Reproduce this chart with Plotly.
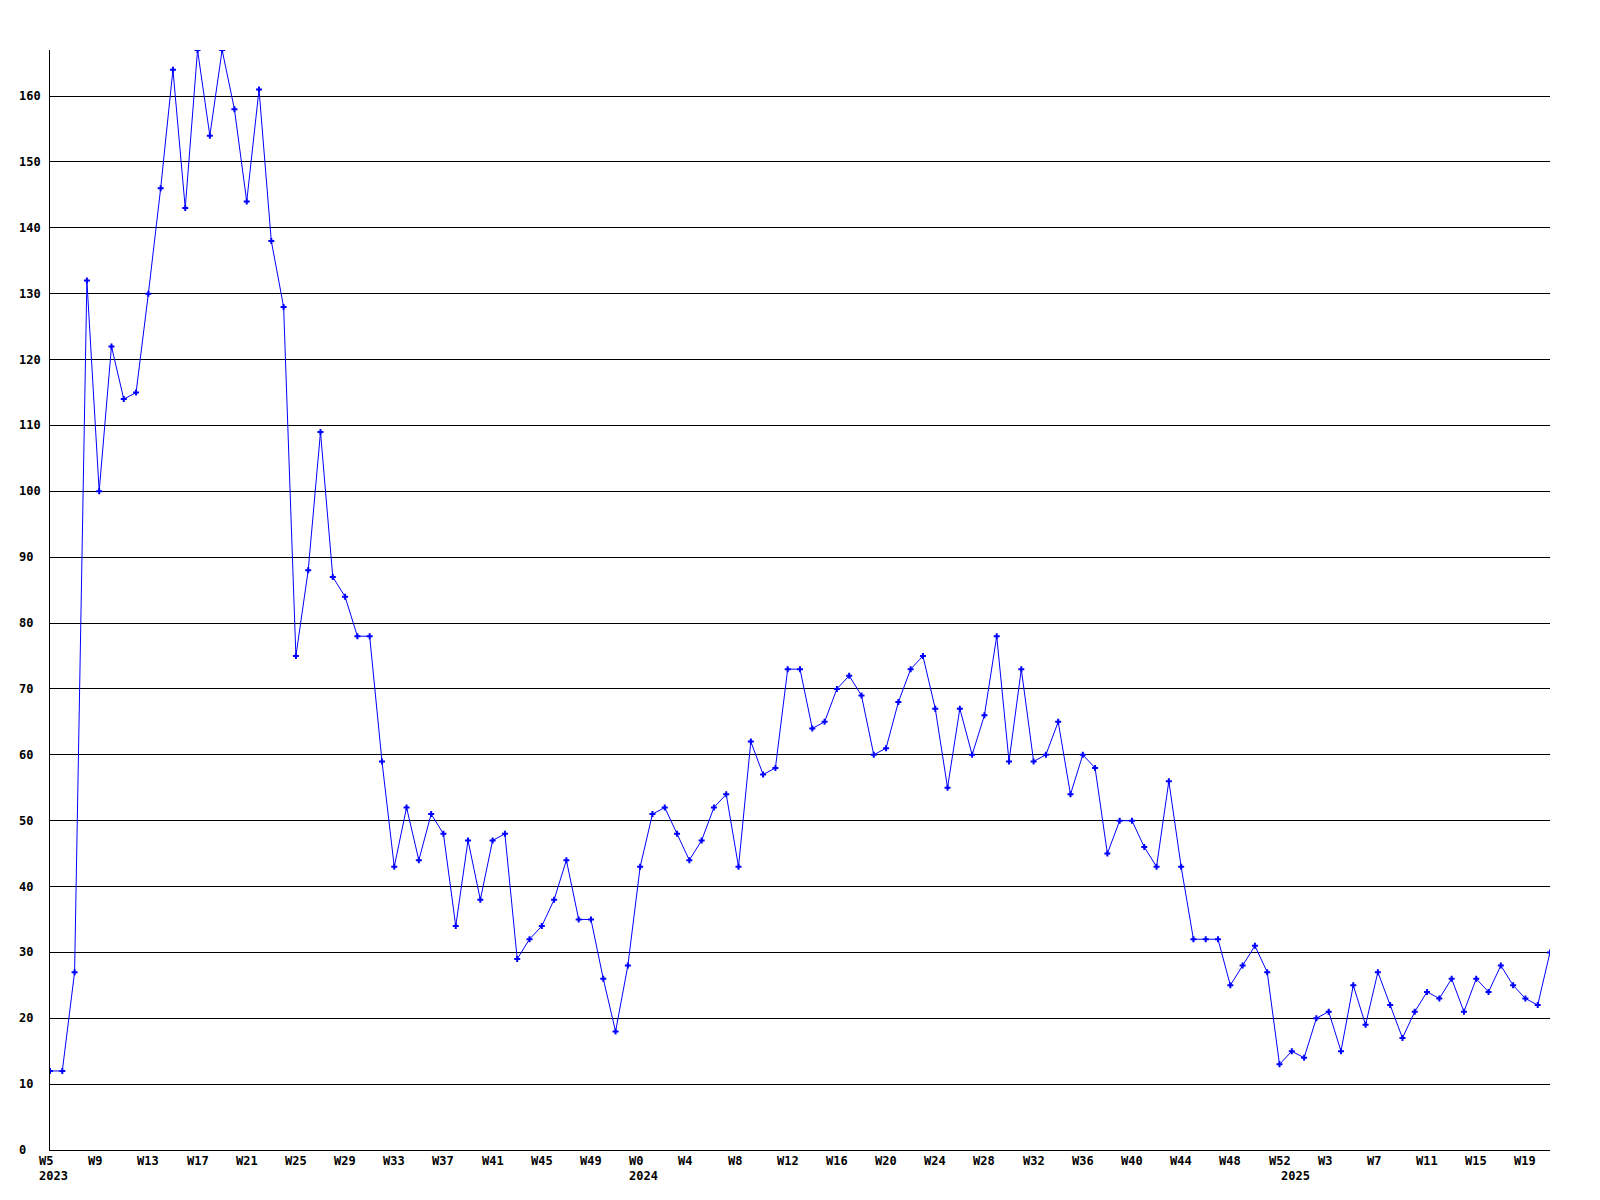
import plotly.graph_objects as go

# ---- data ----
weeks_2023 = [f"W{w}" for w in range(5, 53)]   # W5..W52
weeks_2024 = [f"W{w}" for w in range(0, 53)]   # W0..W52
weeks_2025 = [f"W{w}" for w in range(0, 22)]   # W0..W21

values_2023 = [12, 12, 27, 132, 100, 122, 114, 115, 130, 146, 164, 143, 167, 154, 167, 158,
               144, 161, 138, 128, 75, 88, 109, 87, 84, 78, 78, 59, 43, 52, 44, 51,
               48, 34, 47, 38, 47, 48, 29, 32, 34, 38, 44, 35, 35, 26, 18, 28]
values_2024 = [43, 51, 52, 48, 44, 47, 52, 54, 43, 62, 57, 58, 73, 73, 64, 65,
               70, 72, 69, 60, 61, 68, 73, 75, 67, 55, 67, 60, 66, 78, 59, 73,
               59, 60, 65, 54, 60, 58, 45, 50, 50, 46, 43, 56, 43, 32, 32, 32,
               25, 28, 31, 27, 13]
values_2025 = [15, 14, 20, 21, 15, 25, 19, 27, 22, 17, 21, 24, 23, 26, 21, 26,
               24, 28, 25, 23, 22, 30]

tick_labels = ["W5", "W9", "W13", "W17", "W21", "W25", "W29", "W33", "W37", "W41", "W45", "W49",
               "W0", "W4", "W8", "W12", "W16", "W20", "W24", "W28", "W32", "W36", "W40", "W44",
               "W48", "W52", "W3", "W7", "W11", "W15", "W19"]
years = ["2023", "2024", "2025"]
y_ticks = [0, 10, 20, 30, 40, 50, 60, 70, 80, 90, 100, 110, 120, 130, 140, 150, 160]

# ---- build ----
x_cat = ([f"{years[0]}-{w}" for w in weeks_2023] +
         [f"{years[1]}-{w}" for w in weeks_2024] +
         [f"{years[2]}-{w}" for w in weeks_2025])
values = values_2023 + values_2024 + values_2025

FONT = dict(family="DejaVu Sans Mono", size=12, color="black")

fig = go.Figure()
fig.add_trace(go.Scatter(
    x=x_cat, y=values, mode="lines+markers",
    line=dict(color="#0000ff", width=1),
    marker=dict(symbol="cross", size=5, color="#0000ff", line=dict(width=0)),
    hoverinfo="x+y", showlegend=False,
))

annotations = []
# x tick labels (every 4th week), left-aligned slightly before tick
tick_positions = list(range(0, len(x_cat), 4))
for pos, lab in zip(tick_positions, tick_labels):
    annotations.append(dict(x=x_cat[pos], y=0, xref="x", yref="y", text=f"<b>{lab}</b>",
                            showarrow=False, xanchor="left", yanchor="middle",
                            xshift=-13, yshift=-11, font=FONT))
# year labels at first week of each year
year_starts = [0, len(weeks_2023), len(weeks_2023) + len(weeks_2024)]
for pos, yr in zip(year_starts, years):
    annotations.append(dict(x=x_cat[pos], y=0, xref="x", yref="y", text=f"<b>{yr}</b>",
                            showarrow=False, xanchor="left", yanchor="middle",
                            xshift=-13, yshift=-26, font=FONT))
# y tick labels, left-aligned
for v in y_ticks:
    annotations.append(dict(x=0, y=v, xref="paper", yref="y", text=f"<b>{v}</b>",
                            showarrow=False, xanchor="left", yanchor="middle",
                            xshift=-33, font=FONT))

fig.update_layout(
    width=1592, height=1192,
    margin=dict(l=42, r=50, t=42, b=50),
    paper_bgcolor="white", plot_bgcolor="white",
    annotations=annotations,
    xaxis=dict(type="category", range=[0, len(x_cat) - 1], showticklabels=False,
               showgrid=False, zeroline=False, showline=True, linecolor="black",
               linewidth=1, ticks=""),
    yaxis=dict(range=[0, 167], tickvals=y_ticks, showticklabels=False,
               showgrid=True, gridcolor="black", gridwidth=1, zeroline=False,
               showline=True, linecolor="black", linewidth=1, ticks=""),
)

fig.write_html("out.html")
